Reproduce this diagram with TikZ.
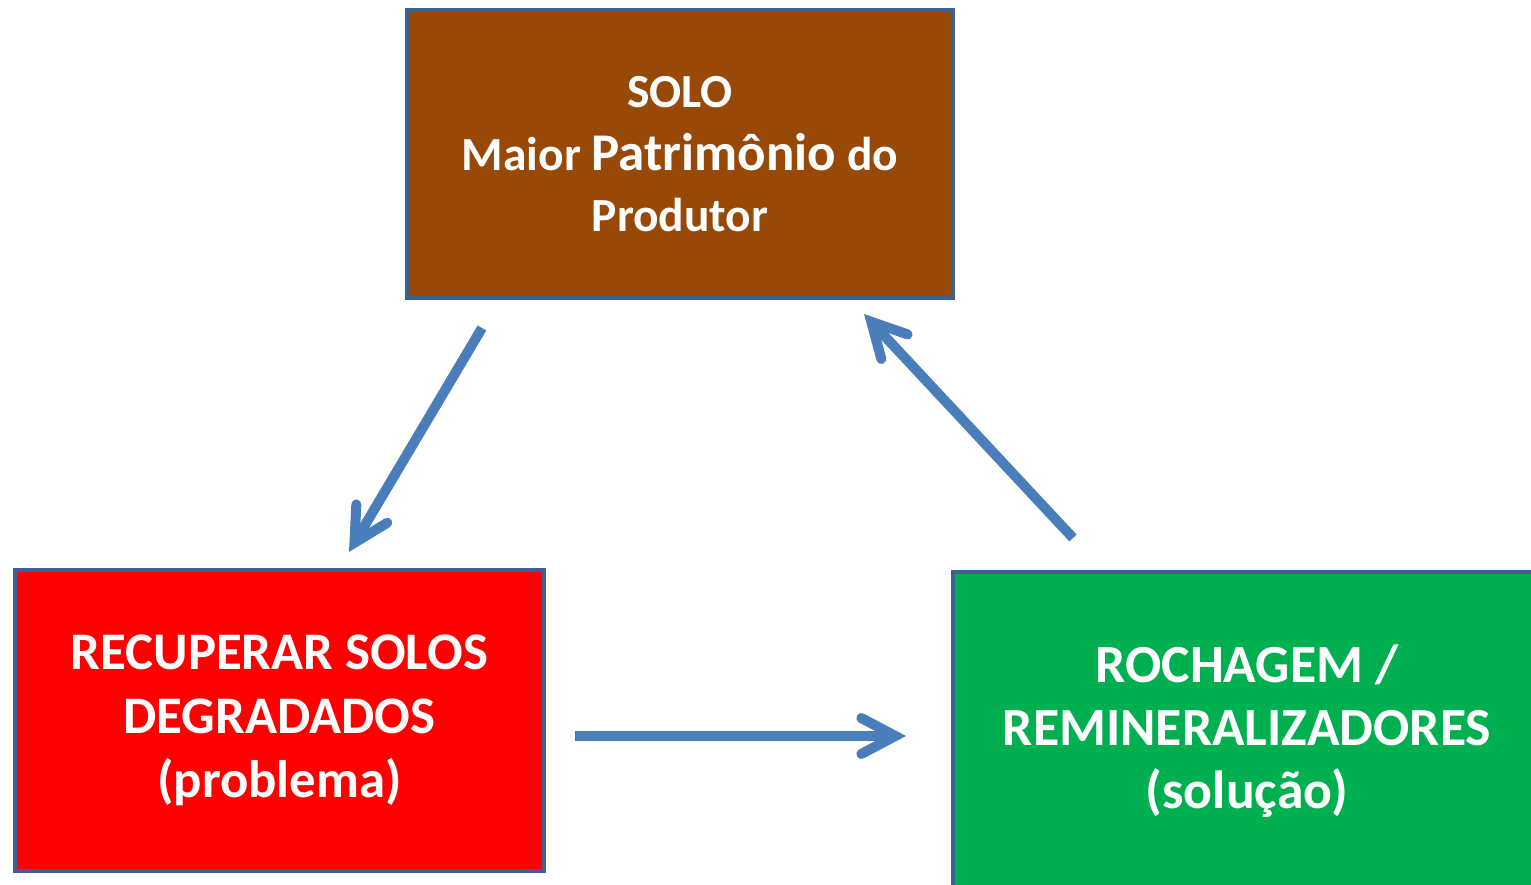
\documentclass[tikz,border=0pt]{standalone}
\usepackage{fontspec}
\setmainfont{Carlito}
\usetikzlibrary{arrows.meta}
\definecolor{boxborder}{HTML}{3B6190}
\definecolor{soilbrown}{HTML}{984807}
\definecolor{probred}{HTML}{FF0000}
\definecolor{solgreen}{HTML}{00B050}
\definecolor{arrowblue}{HTML}{4A7EBB}
\begin{document}
\begin{tikzpicture}[x=1pt,y=-1pt,
  card/.style={draw=boxborder, line width=4pt, text=white, align=center, inner sep=0pt},
  flow/.style={draw=arrowblue, line width=10pt,
    -{Straight Barb[length=34pt,width=36pt,line cap=round,line join=miter]}}]
\useasboundingbox (0,0) rectangle (1531,885);
\clip (0,0) rectangle (1531,885);
\node[card, fill=soilbrown, minimum width=546pt, minimum height=288pt,
  font=\fontsize{47.5}{61}\selectfont\bfseries] (solo) at (680,154)
  {SOLO\\[2pt]Maior {\fontsize{53}{61}\selectfont Patrimônio} do\\Produtor};
\node[card, fill=probred, minimum width=529pt, minimum height=301pt,
  font=\fontsize{52.8}{64}\selectfont\bfseries] (prob) at (279.5,720.5)
  {RECUPERAR SOLOS\\DEGRADADOS\\(problema)};
\node[card, fill=solgreen, minimum width=588pt, minimum height=318pt,
  font=\fontsize{53.7}{63}\selectfont\bfseries] (sol) at (1247,731)
  {ROCHAGEM /\\REMINERALIZADORES\\(solução)};
\coordinate (a1s) at (482,328);
\coordinate (a1e) at (349,552);
\coordinate (a2s) at (575,736);
\coordinate (a2e) at (906,736);
\coordinate (a3s) at (1073,538);
\coordinate (a3e) at (864,314);
\draw[flow] (a1s) -- (a1e);
\draw[flow] (a2s) -- (a2e);
\draw[flow] (a3s) -- (a3e);
\end{tikzpicture}
\end{document}
